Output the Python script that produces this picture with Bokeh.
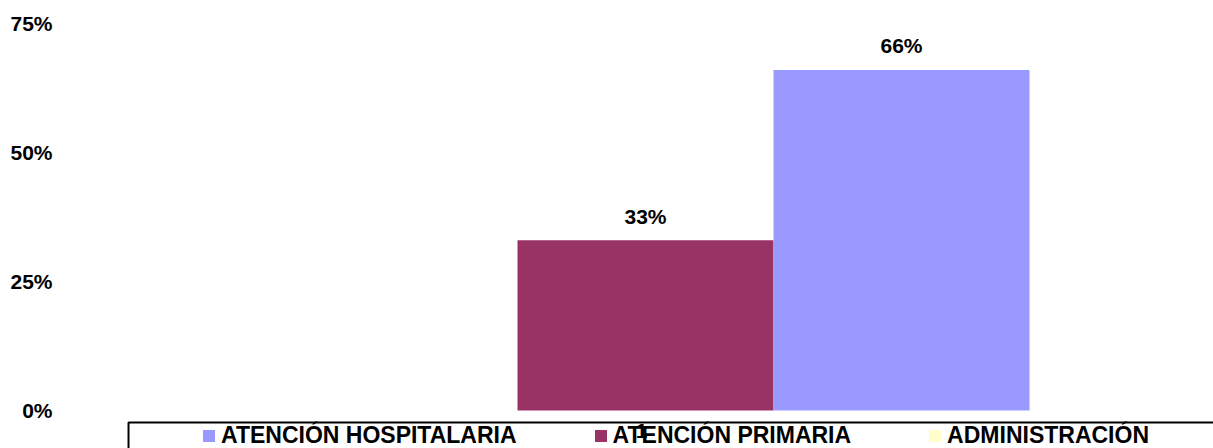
from bokeh.plotting import figure
from bokeh.models import (ColumnDataSource, Range1d, FixedTicker, NumeralTickFormatter,
                          Legend, LegendItem, BoxAnnotation)
from bokeh.core.properties import value
from bokeh.embed import file_html
from bokeh.resources import INLINE

# ---- data ----
series = ["ADMINISTRACIÓN", "ATENCIÓN PRIMARIA", "ATENCIÓN HOSPITALARIA"]
values = [0.0, 0.33, 0.66]
colors = ["#FFFFCC", "#993366", "#9999FF"]
legend_order = ["ATENCIÓN HOSPITALARIA", "ATENCIÓN PRIMARIA", "ADMINISTRACIÓN"]
category_labels = ["1"]
y_ticks = [0, 0.25, 0.5, 0.75]

FONT = "Liberation Sans"

offsets = [i - (len(series) - 1) / 2 for i in range(len(series))]
src = ColumnDataSource(dict(x=offsets, top=values, color=colors, name=series,
                            label=[f"{round(v * 100)}%" if v > 0 else "" for v in values]))

p = figure(width=1213, height=448, output_backend="svg", toolbar_location=None,
           x_range=Range1d(-2.2852, 2.21875), y_range=Range1d(-0.0736, 0.75),
           x_axis_location=None, min_border_left=60, min_border_right=0,
           min_border_top=23, min_border_bottom=0)
p.outline_line_color = None
p.grid.visible = False
p.background_fill_color = "white"

renderers = {}
for i, name in enumerate(series):
    r = p.vbar(x=offsets[i], top=values[i], bottom=0, width=1.0,
               fill_color=colors[i], line_color=None)
    renderers[name] = r

# data labels
p.text(x="x", y="top", text="label", source=src, text_align="center",
       text_baseline="alphabetic", y_offset=-24, text_color="black",
       text_font=value(FONT), text_font_size="21px", text_font_style="bold")

# category label (under the legend)
p.text(x=[0], y=[0], text=category_labels, text_align="center", text_baseline="top",
       x_offset=-4, y_offset=13, text_color="black", text_font=value(FONT),
       text_font_size="21px", text_font_style="bold")

# y axis
ax = p.yaxis[0]
ax.ticker = FixedTicker(ticks=y_ticks)
ax.formatter = NumeralTickFormatter(format="0%")
ax.axis_line_color = None
ax.major_tick_line_color = None
ax.minor_tick_line_color = None
ax.major_tick_in = 0
ax.major_tick_out = 0
ax.major_label_standoff = 8
ax.major_label_text_font = FONT
ax.major_label_text_font_size = "21px"
ax.major_label_text_font_style = "bold"
ax.major_label_text_color = "black"

# legend box
box = BoxAnnotation(left=-2.0195, right=5, top=-0.0233, bottom=-1,
                    fill_alpha=0, line_color="black", line_alpha=1.0, line_width=2)
p.add_layout(box)

legend = Legend(items=[LegendItem(label=n, renderers=[renderers[n]]) for n in legend_order],
                orientation="horizontal", location=(141, -1), padding=0, margin=0,
                spacing=76, glyph_width=15, glyph_height=15, label_standoff=5,
                border_line_color=None, background_fill_alpha=0,
                label_text_font=FONT, label_text_font_size="23px",
                label_text_font_style="bold", label_text_color="black")
p.add_layout(legend, "center")

open("out.html", "w").write(file_html(p, INLINE))
